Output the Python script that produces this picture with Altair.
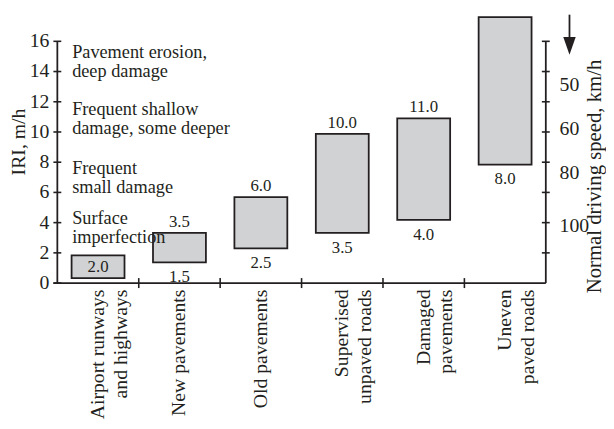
import altair as alt
import pandas as pd

# ---- data ----
categories = ["Airport runways|and highways", "New pavements", "Old pavements",
              "Supervised|unpaved roads", "Damaged|pavements", "Uneven|paved roads"]
bar_low = [0.33, 1.37, 2.29, 3.33, 4.18, 7.84]
bar_high = [1.83, 3.33, 5.69, 9.87, 10.90, 17.6]
top_labels = ["", "3.5", "6.0", "10.0", "11.0", ""]
bottom_labels = ["", "1.5", "2.5", "3.5", "4.0", "8.0"]
inner_labels = ["2.0", "", "", "", "", ""]

iri_ticks = [0, 2, 4, 6, 8, 10, 12, 14, 16]
right_ticks = [2, 4, 6, 8, 10, 12, 14, 16]
axis_min = [0]
axis_max = [16]
speed_labels = ["50", "60", "80", "100"]
speed_levels = [13.1, 10.2, 7.3, 3.8]

note_lines = ["Pavement erosion,", "deep damage", "Frequent shallow", "damage, some deeper",
              "Frequent", "small damage", "Surface", "imperfection"]
note_levels = [15.3, 14.0, 11.5, 10.25, 7.6, 6.35, 4.3, 3.05]

FONT = "Liberation Serif"
INK = "#231f20"
W, H = 495, 245

bars_df = pd.DataFrame({"cat": categories, "low": bar_low, "high": bar_high,
                        "top": top_labels, "bottom": bottom_labels, "inner": inner_labels})
ticks_df = pd.DataFrame({"iri": iri_ticks})
rticks_df = pd.DataFrame({"iri": right_ticks})
frame_df = pd.DataFrame({"y0": axis_min, "y1": axis_max})
xticks_df = pd.DataFrame({"cat": categories[1:], "t0": [-0.33] * 5, "t1": [0.33] * 5})
speed_df = pd.DataFrame({"label": speed_labels, "level": speed_levels})
notes_df = pd.DataFrame({"line": note_lines, "level": note_levels})

x_scale = alt.Scale(domain=categories, paddingInner=0, paddingOuter=0)
y_scale = alt.Scale(domain=[0, 16], nice=False)

x_axis = alt.Axis(title=None, domain=False, ticks=False, labelAngle=270,
                  labelExpr="split(datum.label, '|')", labelFont=FONT, labelFontSize=20,
                  labelColor=INK, labelPadding=6, labelLimit=400, labelLineHeight=23,
                  labelOverlap=False, grid=False)


def xenc(**kw):
    return alt.X("cat:N", scale=x_scale, sort=categories, axis=x_axis, **kw)


bars = alt.Chart(bars_df).mark_bar(
    fill="#d1d2d4", stroke=INK, strokeWidth=1.8, width=alt.RelativeBandSize(0.65)
).encode(
    x=xenc(),
    y=alt.Y("low:Q", scale=y_scale, axis=None),
    y2="high:Q",
)

top_txt = alt.Chart(bars_df).transform_filter("datum.top != ''").mark_text(
    font=FONT, fontSize=17, color=INK, baseline="middle", dy=-11
).encode(x=xenc(), y=alt.Y("high:Q", axis=None), text="top:N")

bot_txt = alt.Chart(bars_df).transform_filter("datum.bottom != ''").mark_text(
    font=FONT, fontSize=17, color=INK, baseline="middle", dy=15
).encode(x=xenc(), y=alt.Y("low:Q", axis=None), text="bottom:N")

in_txt = alt.Chart(bars_df).transform_filter("datum.inner != ''").transform_calculate(
    mid="(datum.low + datum.high) / 2"
).mark_text(font=FONT, fontSize=17, color=INK, baseline="middle").encode(
    x=xenc(), y=alt.Y("mid:Q", axis=None), text="inner:N")

# axis lines
left_line = alt.Chart(frame_df).mark_rule(color=INK, strokeWidth=1.8).encode(
    x=alt.value(0), y=alt.Y("y0:Q", axis=None), y2="y1:Q")
right_line = alt.Chart(frame_df).mark_rule(color=INK, strokeWidth=1.8).encode(
    x=alt.value(W), y=alt.Y("y0:Q", axis=None), y2="y1:Q")
bottom_line = alt.Chart(frame_df).mark_rule(color=INK, strokeWidth=1.8).encode(
    x=alt.value(-4), x2=alt.value(W), y=alt.Y("y0:Q", axis=None))

left_ticks = alt.Chart(ticks_df).mark_rule(color=INK, strokeWidth=1.6).encode(
    x=alt.value(-4), x2=alt.value(4), y=alt.Y("iri:Q", axis=None))
right_ticks_m = alt.Chart(rticks_df).mark_rule(color=INK, strokeWidth=1.6).encode(
    x=alt.value(W - 4), x2=alt.value(W + 4), y=alt.Y("iri:Q", axis=None))
x_ticks = alt.Chart(xticks_df).mark_rule(color=INK, strokeWidth=1.6).encode(
    x=xenc(bandPosition=0), y=alt.Y("t0:Q", axis=None), y2="t1:Q")

left_labels = alt.Chart(ticks_df).mark_text(
    font=FONT, fontSize=20, color=INK, align="right", baseline="middle"
).encode(x=alt.value(-8), y=alt.Y("iri:Q", axis=None), text="iri:Q")

right_labels = alt.Chart(speed_df).mark_text(
    font=FONT, fontSize=20, color=INK, align="left", baseline="middle"
).encode(x=alt.value(W + 14), y=alt.Y("level:Q", axis=None), text="label:N")

notes = alt.Chart(notes_df).mark_text(
    font=FONT, fontSize=18.5, color=INK, align="left", baseline="middle"
).encode(x=alt.value(15), y=alt.Y("level:Q", axis=None), text="line:N")

arrow_line = alt.Chart(frame_df).mark_rule(color=INK, strokeWidth=1.8).encode(
    x=alt.value(W + 24), y=alt.value(-27), y2=alt.value(-2))
arrow_head = alt.Chart(frame_df).mark_point(
    shape="M-0.7,-1L0.7,-1L0,1Z", filled=True, color=INK, opacity=1, size=324
).encode(x=alt.value(W + 24), y=alt.value(4.5))

left_title = alt.Chart(pd.DataFrame({"t": ["IRI, m/h"]})).mark_text(
    font=FONT, fontSize=20, color=INK, angle=270, align="center", baseline="alphabetic"
).encode(x=alt.value(-33), y=alt.value(102), text="t:N")

right_title = alt.Chart(pd.DataFrame({"t": ["Normal driving speed, km/h"]})).mark_text(
    font=FONT, fontSize=21, color=INK, angle=270, align="center", baseline="alphabetic"
).encode(x=alt.value(W + 56), y=alt.value(137), text="t:N")

chart = alt.layer(
    bars, left_line, right_line, bottom_line, left_ticks, right_ticks_m, x_ticks,
    top_txt, bot_txt, in_txt, notes, left_labels, right_labels,
    arrow_line, arrow_head, left_title, right_title,
).properties(
    width=W, height=H,
    padding={"left": 50, "top": 31, "right": 61, "bottom": 137},
    autosize=alt.AutoSizeParams(type="none"),
    background="white",
).configure_view(stroke=None)

chart.save("out.html", embed_options={"renderer": "svg", "actions": False})
